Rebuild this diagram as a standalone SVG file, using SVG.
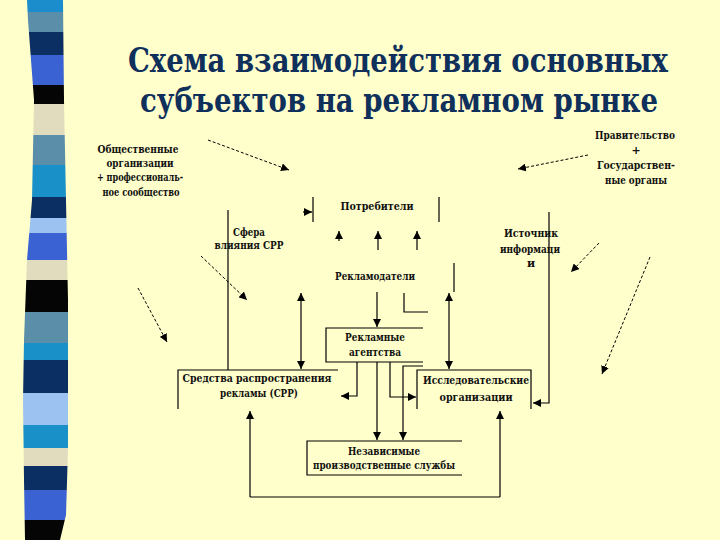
<svg xmlns="http://www.w3.org/2000/svg" width="720" height="540" viewBox="0 0 720 540" font-family="DejaVu Serif, serif" font-weight="bold">
<defs>
<style>
.t{font-size:11px;fill:#111;text-anchor:middle}
.title{font-size:33px;fill:#10305c;text-anchor:middle}
.ln{fill:none;stroke:#000;stroke-width:1.2}
.ds{fill:none;stroke:#000;stroke-width:1;stroke-dasharray:3 2}
.ar{marker-end:url(#ah)}
.da{marker-start:url(#ahs);marker-end:url(#ah)}
</style>
<marker id="ah" markerUnits="userSpaceOnUse" markerWidth="9" markerHeight="8" refX="8" refY="4" orient="auto"><path d="M0,0 L8,4 L0,8 z" fill="#000"/></marker>
<marker id="ahs" markerUnits="userSpaceOnUse" markerWidth="9" markerHeight="8" refX="0" refY="4" orient="auto"><path d="M8,0 L0,4 L8,8 z" fill="#000"/></marker>
<clipPath id="bar"><polygon points="27,0 63,0 64,100 66,200 68,300 68,450 66,515 60,540 25,540 24,480 23,400 24,340 27,260 32,200 34,100 28,20"/></clipPath>
</defs>
<rect width="720" height="540" fill="#ffffcc"/>
<g id="stripes" clip-path="url(#bar)">
<rect x="0" y="0" width="80" height="12" fill="#1b8ccc"/>
<rect x="0" y="12" width="80" height="20" fill="#5b8ea8"/>
<rect x="0" y="32" width="80" height="23" fill="#0c2f63"/>
<rect x="0" y="55" width="80" height="30" fill="#3b62d2"/>
<rect x="0" y="85" width="80" height="19" fill="#050505"/>
<rect x="0" y="104" width="80" height="31" fill="#e2dcbe"/>
<rect x="0" y="135" width="80" height="30" fill="#5b8ea8"/>
<rect x="0" y="165" width="80" height="32" fill="#1a90c8"/>
<rect x="0" y="197" width="80" height="21" fill="#0c2f63"/>
<rect x="0" y="218" width="80" height="15" fill="#9cc2f2"/>
<rect x="0" y="233" width="80" height="27" fill="#3b62d2"/>
<rect x="0" y="260" width="80" height="20" fill="#e2dcbe"/>
<rect x="0" y="280" width="80" height="32" fill="#050505"/>
<rect x="0" y="312" width="80" height="31" fill="#5b8ea8"/>
<rect x="0" y="343" width="80" height="17" fill="#1a90c8"/>
<rect x="0" y="360" width="80" height="33" fill="#0c2f63"/>
<rect x="0" y="393" width="80" height="32" fill="#9cc2f2"/>
<rect x="0" y="425" width="80" height="23" fill="#1a90c8"/>
<rect x="0" y="448" width="80" height="18" fill="#e2dcbe"/>
<rect x="0" y="466" width="80" height="24" fill="#0c2f63"/>
<rect x="0" y="490" width="80" height="30" fill="#3b62d2"/>
<rect x="0" y="520" width="80" height="20" fill="#050505"/>
</g>
<g id="title">
<text class="title" x="398" y="72" textLength="540" lengthAdjust="spacingAndGlyphs">Схема взаимодействия основных</text>
<text class="title" x="399" y="112" textLength="518" lengthAdjust="spacingAndGlyphs">субъектов на рекламном рынке</text>
</g>
<g id="connectors">
<path class="ds ar" d="M208,140 L289,170"/>
<path class="ds ar" d="M588,155 L518,169"/>
<path class="ds ar" d="M201,256 L247,300"/>
<path class="ds ar" d="M138,288 L167,342"/>
<path class="ds ar" d="M599,243 L571,272"/>
<path class="ds ar" d="M650,257 L602,374"/>
<path class="ln ar" d="M303,212 L312,212"/>
<path class="ln ar" d="M339,241 L339,231"/>
<path class="ln ar" d="M378,250 L378,231"/>
<path class="ln ar" d="M417,250 L417,231"/>
<path class="ln ar" d="M377,292 L377,327"/>
<path class="ln da" d="M301,293 L301,369"/>
<path class="ln da" d="M449,293 L449,369"/>
<path class="ln" d="M404,293 L404,312 L428,312"/>
<path class="ln ar" d="M357,362 L357,396 L341,396"/>
<path class="ln ar" d="M377,362 L377,440"/>
<path class="ln ar" d="M390,362 L390,397 L416,397"/>
<path class="ln ar" d="M423,366 L403,366 L403,440"/>
<path class="ln ar" d="M549,212 L549,403 L533,403"/>
<path class="ln" d="M250,497 L500,497"/>
<path class="ln ar" d="M250,497 L250,411"/>
<path class="ln ar" d="M500,497 L500,411"/>
</g>
<g id="obshchestvennye">
<text class="t" x="138" y="153" textLength="81" lengthAdjust="spacingAndGlyphs">Общественные</text>
<text class="t" x="140" y="167" textLength="67" lengthAdjust="spacingAndGlyphs">организации</text>
<text class="t" x="140" y="181" textLength="86" lengthAdjust="spacingAndGlyphs">+ профессиональ-</text>
<text class="t" x="141" y="196" textLength="77" lengthAdjust="spacingAndGlyphs">ное сообщество</text>
</g>
<g id="pravitelstvo">
<text class="t" x="635" y="139" textLength="80" lengthAdjust="spacingAndGlyphs">Правительство</text>
<text class="t" x="636" y="154">+</text>
<text class="t" x="636" y="169" textLength="78" lengthAdjust="spacingAndGlyphs">Государствен-</text>
<text class="t" x="636" y="184" textLength="62" lengthAdjust="spacingAndGlyphs">ные органы</text>
</g>
<g id="potrebiteli">
<path class="ln" d="M313,197 L313,222 M439,197 L439,222"/>
<text class="t" x="377" y="210" textLength="73" lengthAdjust="spacingAndGlyphs">Потребители</text>
</g>
<g id="sfera">
<path class="ln" d="M228,210 L228,370"/>
<text class="t" x="249" y="236" textLength="32" lengthAdjust="spacingAndGlyphs">Сфера</text>
<text class="t" x="249" y="249" textLength="69" lengthAdjust="spacingAndGlyphs">влияния СРР</text>
</g>
<g id="istochniki">
<text class="t" x="531" y="237" textLength="54" lengthAdjust="spacingAndGlyphs">Источник</text>
<text class="t" x="530" y="253" textLength="60" lengthAdjust="spacingAndGlyphs">информаци</text>
<text class="t" x="531" y="267">и</text>
</g>
<g id="reklamodateli">
<path class="ln" d="M454,263 L454,292"/>
<text class="t" x="375" y="280" textLength="80" lengthAdjust="spacingAndGlyphs">Рекламодатели</text>
</g>
<g id="agentstva">
<path class="ln" d="M423,328 L326,328 L326,362 L423,362"/>
<text class="t" x="375" y="341" textLength="60" lengthAdjust="spacingAndGlyphs">Рекламные</text>
<text class="t" x="375" y="356" textLength="52" lengthAdjust="spacingAndGlyphs">агентства</text>
</g>
<g id="srr">
<path class="ln" d="M338,370 L178,370 L178,409"/>
<text class="t" x="257" y="382" textLength="149" lengthAdjust="spacingAndGlyphs">Средства распространения</text>
<text class="t" x="259" y="397" textLength="78" lengthAdjust="spacingAndGlyphs">рекламы (СРР)</text>
</g>
<g id="issledovatelskie">
<path class="ln" d="M417,409 L417,370 L531,370 L531,409"/>
<text class="t" x="476" y="384" textLength="106" lengthAdjust="spacingAndGlyphs">Исследовательские</text>
<text class="t" x="476" y="401" textLength="73" lengthAdjust="spacingAndGlyphs">организации</text>
</g>
<g id="nezavisimye">
<path class="ln" d="M462,441 L307,441 L307,475 L462,475"/>
<text class="t" x="384" y="455" textLength="72" lengthAdjust="spacingAndGlyphs">Независимые</text>
<text class="t" x="384" y="469" textLength="142" lengthAdjust="spacingAndGlyphs">производственные службы</text>
</g>
</svg>
